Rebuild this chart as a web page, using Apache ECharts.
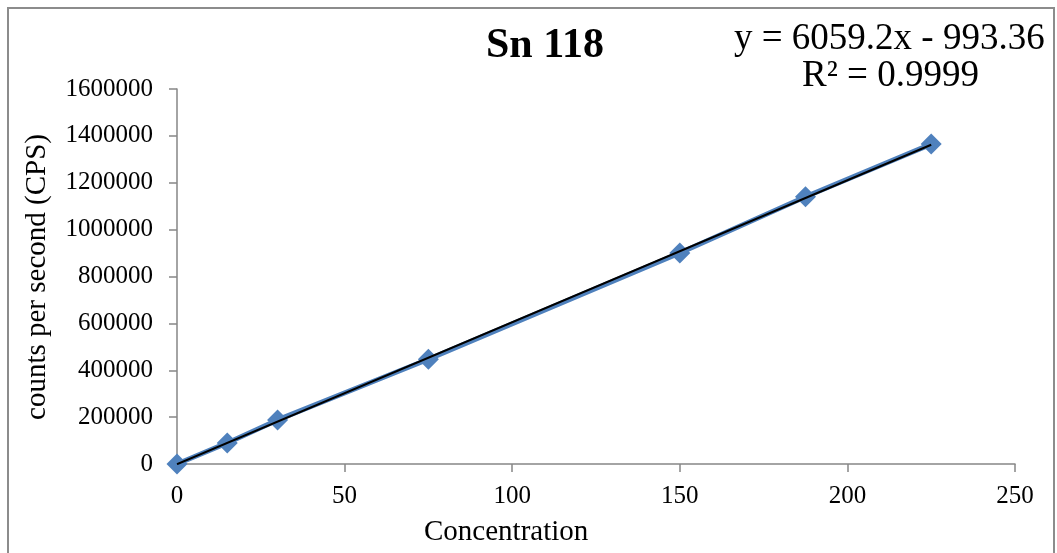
<!DOCTYPE html>
<html>
<head>
<meta charset="utf-8">
<script src="https://cdn.jsdelivr.net/npm/echarts@6/dist/echarts.min.js"></script>
<style>
  html, body { margin: 0; padding: 0; background: #fff; }
  #chart { width: 1057px; height: 553px; }
</style>
</head>
<body>
<div id="chart"></div>
<script>
// Sn 118 calibration: concentration vs. counts per second
const concentrations = [0, 15, 30, 75, 150, 187.5, 225];
const cps = [0, 90000, 188000, 447000, 900000, 1140000, 1365000];
const yTicks = [0, 200000, 400000, 600000, 800000, 1000000, 1200000, 1400000, 1600000];
const xTicks = [0, 50, 100, 150, 200, 250];

// Linear fit reported on the chart
const slope = 6059.2;
const intercept = -993.36;
const rSquared = '0.9999';
const fitX = [0, 225];

const serif = '"Liberation Serif", "Times New Roman", serif';
const axisGray = '#868686';

const chart = echarts.init(document.getElementById('chart'));
chart.setOption({
  animation: false,
  backgroundColor: '#fff',
  grid: { left: 177, right: 42, top: 89, bottom: 89 },
  xAxis: {
    type: 'value',
    min: xTicks[0],
    max: xTicks[xTicks.length - 1],
    interval: 50,
    axisLine: { lineStyle: { color: axisGray, width: 1.5 } },
    axisTick: { show: true, length: 8, lineStyle: { color: axisGray, width: 1.5 } },
    axisLabel: { color: '#000', fontFamily: serif, fontSize: 25, margin: 20, formatter: v => String(v) },
    splitLine: { show: false }
  },
  yAxis: {
    type: 'value',
    min: yTicks[0],
    max: yTicks[yTicks.length - 1],
    interval: 200000,
    axisLine: { show: true, lineStyle: { color: axisGray, width: 1.5 } },
    axisTick: { show: true, length: 8, lineStyle: { color: axisGray, width: 1.5 } },
    axisLabel: { color: '#000', fontFamily: serif, fontSize: 25, margin: 24, formatter: v => String(v) },
    splitLine: { show: false }
  },
  series: [
    {
      name: 'Sn 118',
      type: 'line',
      data: concentrations.map((c, i) => [c, cps[i]]),
      symbol: 'diamond',
      symbolSize: 21,
      itemStyle: { color: '#4F81BD' },
      lineStyle: { color: '#4F81BD', width: 5 },
      z: 2
    },
    {
      name: 'Linear fit',
      type: 'line',
      data: fitX.map(x => [x, slope * x + intercept]),
      symbol: 'none',
      lineStyle: { color: '#000', width: 2 },
      z: 3
    }
  ],
  graphic: [
    {
      type: 'rect',
      shape: { x: 8, y: 8, width: 1046, height: 560 },
      style: { fill: 'none', stroke: '#8c8c8c', lineWidth: 2 },
      silent: true
    },
    {
      type: 'text',
      left: 486, top: 25,
      style: { text: 'Sn 118', font: 'bold 42px ' + serif, fill: '#000' }
    },
    {
      type: 'text',
      left: 734, top: 21,
      style: { text: 'y = ' + slope + 'x - ' + Math.abs(intercept), font: '37px ' + serif, fill: '#000' }
    },
    {
      type: 'text',
      left: 802, top: 58,
      style: { text: 'R² = ' + rSquared, font: '37px ' + serif, fill: '#000' }
    },
    {
      type: 'text',
      left: 424, top: 518,
      style: { text: 'Concentration', font: '29px ' + serif, fill: '#000' }
    },
    {
      type: 'text',
      x: 37, y: 277,
      rotation: Math.PI / 2,
      style: { text: 'counts per second (CPS)', font: '29px ' + serif, fill: '#000', align: 'center', verticalAlign: 'middle' }
    }
  ]
});
</script>
</body>
</html>
